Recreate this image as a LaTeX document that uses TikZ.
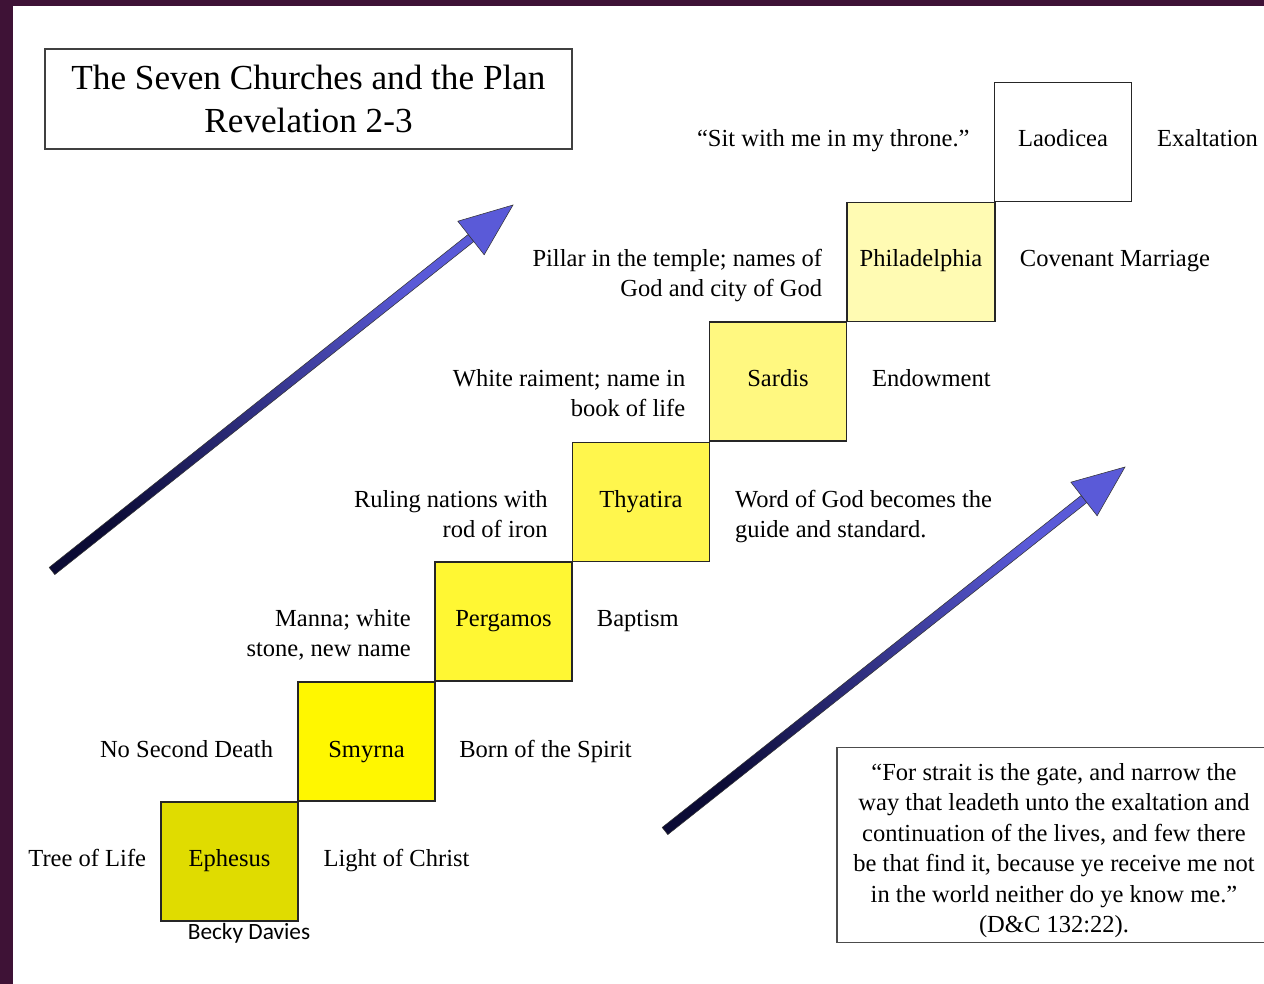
\documentclass[tikz,border=0pt]{standalone}
\usepackage{fontspec}
\setmainfont{Liberation Serif}
\newfontfamily\calibrifont{Carlito}
\usetikzlibrary{calc}

\definecolor{plum}{HTML}{3E1236}
\definecolor{arrowdark}{HTML}{0B0B35}
\definecolor{arrowlight}{HTML}{5A5AD8}
\definecolor{c1}{HTML}{E0DC00}
\definecolor{c2}{HTML}{FFF700}
\definecolor{c3}{HTML}{FFF733}
\definecolor{c4}{HTML}{FFF64D}
\definecolor{c5}{HTML}{FFF880}
\definecolor{c6}{HTML}{FFFBB3}

\newcommand\bodysize{\fontsize{18.4}{22.5}\selectfont}
\newcommand\quotesize{\fontsize{18.4}{22.9}\selectfont}
\newcommand\titlesize{\fontsize{26.4}{32.25}\selectfont}

\begin{document}
\begin{tikzpicture}[x=0.75pt, y=-0.75pt,
    church/.style={draw=black!85, line width=1pt, minimum width=102.75pt, minimum height=89.25pt, inner sep=0pt, text height=12pt, text depth=4.5pt, font=\bodysize},
    lnote/.style={anchor=base east, inner sep=0pt, font=\bodysize},
    rnote/.style={anchor=base west, inner sep=0pt, font=\bodysize},
    shaft/.style={bottom color=arrowdark, top color=arrowlight, shading angle=-51.5, draw=black!80, line width=0.4pt},
    head/.style={fill=arrowlight, draw=black!80, line width=0.4pt}]
    \useasboundingbox (0,0) rectangle (1264,984);
    \clip (0,0) rectangle (1264,984);
    \fill[white] (0,0) rectangle (1264,984);
    \fill[plum] (0,0) rectangle (13,984);
    \fill[plum] (0,0) rectangle (1264,6);

    \node[draw=black!75, line width=0.8pt, minimum width=395.25pt, minimum height=75pt, align=center, font=\titlesize] (title) at (308.5,99) {The Seven Churches and the Plan\\Revelation 2-3};

    \node[church, fill=c1] (eph) at (229.5,861.5) {Ephesus};
    \node[church, fill=c2, text height=28pt, text depth=4pt] (smy) at (366.5,741.5) {Smyrna};
    \node[church, fill=c3] (per) at (503.5,621.5) {Pergamos};
    \node[church, fill=c4] (thy) at (641,502) {Thyatira};
    \node[church, fill=c5] (sar) at (778,381.5) {Sardis};
    \node[church, fill=c6, minimum width=111pt] (phi) at (921,262) {Philadelphia};
    \node[church, fill=white] (lao) at (1063,142) {Laodicea};

    \node[lnote] (ephL) at ([xshift=-10.5pt]eph.base west) {Tree of Life};
    \node[rnote] (ephR) at ([xshift=18.5pt]eph.base east) {Light of Christ};
    \node[lnote] (smyL) at ([xshift=-18pt]smy.base west) {No Second Death};
    \node[rnote] (smyR) at ([xshift=17.5pt]smy.base east) {Born of the Spirit};
    \node[lnote] (perL) at ([xshift=-17.5pt]per.base west) {\begin{tabular}[t]{@{}r@{}}Manna; white\\stone, new name\end{tabular}};
    \node[rnote] (perR) at ([xshift=18pt]per.base east) {Baptism};
    \node[lnote] (thyL) at ([xshift=-18pt]thy.base west) {\begin{tabular}[t]{@{}r@{}}Ruling nations with\\rod of iron\end{tabular}};
    \node[rnote] (thyR) at ([xshift=18.5pt]thy.base east) {\begin{tabular}[t]{@{}l@{}}Word of God becomes the\\guide and standard.\end{tabular}};
    \node[lnote] (sarL) at ([xshift=-17.5pt]sar.base west) {\begin{tabular}[t]{@{}r@{}}White raiment; name in\\book of life\end{tabular}};
    \node[rnote] (sarR) at ([xshift=18.5pt]sar.base east) {Endowment};
    \node[lnote] (phiL) at ([xshift=-18pt]phi.base west) {\begin{tabular}[t]{@{}r@{}}Pillar in the temple; names of\\God and city of God\end{tabular}};
    \node[rnote] (phiR) at ([xshift=18pt]phi.base east) {Covenant Marriage};
    \node[lnote] (laoL) at ([xshift=-18pt]lao.base west) {“Sit with me in my throne.”};
    \node[rnote] (laoR) at ([xshift=18.5pt]lao.base east) {Exaltation};

    \node[font=\calibrifont\fontsize{17.5}{21}\selectfont, inner sep=0pt] (author) at (249,933) {Becky Davies};

    \node[draw=black!70, line width=0.8pt, minimum width=325.5pt, minimum height=145.5pt, align=center, font=\quotesize] (quote) at (1054,845) {\rule{0pt}{21pt}“For strait is the gate, and narrow the\\way that leadeth unto the exaltation and\\continuation of the lives, and few there\\be that find it, because ye receive me not\\in the world neither do ye know me.”\\(D\&C 132:22).};

    \coordinate (a1tail) at (52,571);
    \coordinate (a1neck) at (471,238);
    \coordinate (a1tip) at (513,205);
    \shade[shaft] ($(a1tail)!3.4pt!90:(a1neck)$) -- ($(a1neck)!3.4pt!-90:(a1tail)$) -- ($(a1neck)!3.4pt!90:(a1tail)$) -- ($(a1tail)!3.4pt!-90:(a1neck)$) -- cycle;
    \filldraw[head] (a1tip) -- ($(a1neck)!16pt!90:(a1tip)$) -- ($(a1neck)!16pt!-90:(a1tip)$) -- cycle;

    \coordinate (a2tail) at (665,831);
    \coordinate (a2neck) at (1084,499);
    \coordinate (a2tip) at (1125,467);
    \shade[shaft] ($(a2tail)!3.4pt!90:(a2neck)$) -- ($(a2neck)!3.4pt!-90:(a2tail)$) -- ($(a2neck)!3.4pt!90:(a2tail)$) -- ($(a2tail)!3.4pt!-90:(a2neck)$) -- cycle;
    \filldraw[head] (a2tip) -- ($(a2neck)!16pt!90:(a2tip)$) -- ($(a2neck)!16pt!-90:(a2tip)$) -- cycle;
\end{tikzpicture}
\end{document}
